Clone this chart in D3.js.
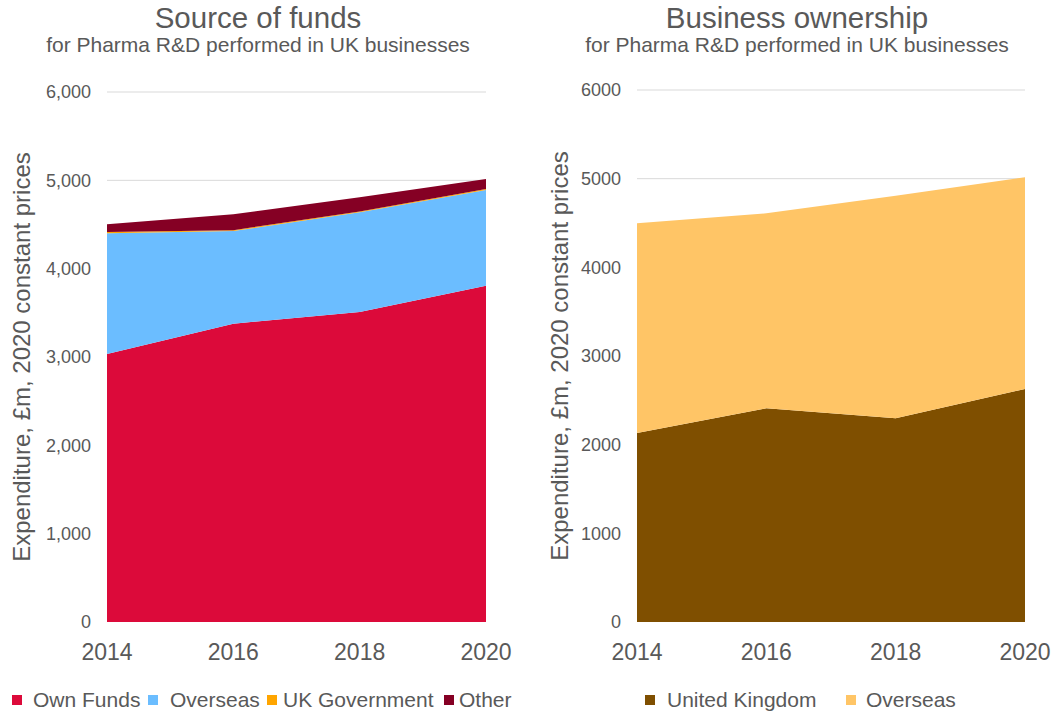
<!DOCTYPE html>
<html>
<head>
<meta charset="utf-8">
<script src="https://cdn.jsdelivr.net/npm/d3@7"></script>
<style>
  body { margin: 0; background: #fff; font-family: "Liberation Sans", Arial, sans-serif; }
  text { fill: #595959; }
  .grid line { stroke: #d9d9d9; stroke-width: 1; }
</style>
</head>
<body>
<svg width="1054" height="712"></svg>
<script>
const years = [2014, 2016, 2018, 2020];

// Source of funds (£m)
const ownFunds     = [3034, 3377, 3509, 3808];
const overseasFund = [1366, 1049, 1129, 1083];
const ukGovernment = [15, 10, 10, 10];
const otherFunds   = [87, 179, 160, 114];

// Business ownership (£m)
const ukOwned       = [2132, 2410, 2297, 2628];
const overseasOwned = [2364, 2199, 2511, 2387];

const yTicks = [0, 1000, 2000, 3000, 4000, 5000, 6000];

const svg = d3.select("svg");

function drawPanel(opts) {
  const { left, right, top, bottom, keys, colors, series, tickFmt, title, subtitle, titleX, axisTitleX } = opts;

  const x = d3.scaleLinear().domain([2014, 2020]).range([left, right]);
  const y = d3.scaleLinear().domain([0, 6000]).range([bottom, top]);

  const rows = years.map((yr, i) => {
    const r = { year: yr };
    keys.forEach((k, j) => r[k] = series[j][i]);
    return r;
  });
  const stacked = d3.stack().keys(keys)(rows);

  // gridlines
  svg.append("g").attr("class", "grid")
    .selectAll("line").data(yTicks.filter(d => d > 0)).join("line")
    .attr("x1", left).attr("x2", right)
    .attr("y1", d => y(d)).attr("y2", d => y(d));

  const area = d3.area()
    .x(d => x(d.data.year))
    .y0(d => y(d[0]))
    .y1(d => y(d[1]));

  svg.append("g").selectAll("path").data(stacked).join("path")
    .attr("fill", (d, i) => colors[i])
    .attr("d", area);

  // y tick labels
  svg.append("g").selectAll("text").data(yTicks).join("text")
    .attr("x", left - 16).attr("y", d => y(d))
    .attr("dy", "0.35em")
    .attr("text-anchor", "end")
    .style("font-size", "18px")
    .text(tickFmt);

  // x tick labels
  svg.append("g").selectAll("text").data(years).join("text")
    .attr("x", d => x(d)).attr("y", bottom + 38)
    .attr("text-anchor", "middle")
    .style("font-size", "23px")
    .text(d => d);

  svg.append("text")
    .attr("transform", `translate(${axisTitleX},${(top + bottom) / 2}) rotate(-90)`)
    .attr("text-anchor", "middle")
    .attr("dy", "0.35em")
    .style("font-size", "24px")
    .text("Expenditure, £m, 2020 constant prices");

  svg.append("text")
    .attr("x", titleX).attr("y", 28)
    .attr("text-anchor", "middle")
    .style("font-size", "29.5px")
    .text(title);
  svg.append("text")
    .attr("x", titleX).attr("y", 52)
    .attr("text-anchor", "middle")
    .style("font-size", "21px")
    .text(subtitle);
}

drawPanel({
  left: 107, right: 486, top: 92, bottom: 622,
  keys: ["Own Funds", "Overseas", "UK Government", "Other"],
  colors: ["#dc0a3a", "#6bbdff", "#ffa500", "#850024"],
  series: [ownFunds, overseasFund, ukGovernment, otherFunds],
  tickFmt: d3.format(","),
  title: "Source of funds",
  subtitle: "for Pharma R&D performed in UK businesses",
  titleX: 258, axisTitleX: 22
});

drawPanel({
  left: 637, right: 1025, top: 90, bottom: 622,
  keys: ["United Kingdom", "Overseas"],
  colors: ["#7f4f00", "#ffc566"],
  series: [ukOwned, overseasOwned],
  tickFmt: d => d,
  title: "Business ownership",
  subtitle: "for Pharma R&D performed in UK businesses",
  titleX: 797, axisTitleX: 560
});

// legends
const legendItems = [
  { label: "Own Funds", color: "#dc0a3a", x: 12, tx: 33 },
  { label: "Overseas", color: "#6bbdff", x: 148, tx: 170 },
  { label: "UK Government", color: "#ffa500", x: 267, tx: 283 },
  { label: "Other", color: "#850024", x: 444, tx: 459 },
  { label: "United Kingdom", color: "#7f4f00", x: 645, tx: 667 },
  { label: "Overseas", color: "#ffc566", x: 846, tx: 866 }
];
const legendY = 700;
const lg = svg.append("g").selectAll("g").data(legendItems).join("g");
lg.append("rect")
  .attr("x", d => d.x).attr("y", legendY - 5)
  .attr("width", 10).attr("height", 10)
  .attr("fill", d => d.color);
lg.append("text")
  .attr("x", d => d.tx)
  .attr("y", legendY).attr("dy", "0.35em")
  .style("font-size", "21px")
  .text(d => d.label);
</script>
</body>
</html>
